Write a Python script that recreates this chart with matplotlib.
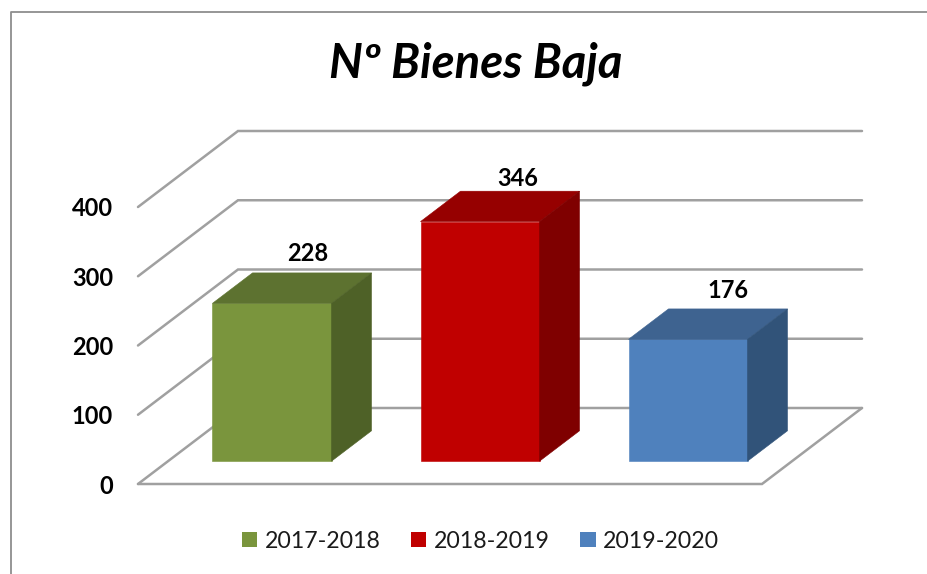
import matplotlib
matplotlib.use("Agg")
import matplotlib.pyplot as plt
from matplotlib.patches import Polygon, Patch

plt.rcParams['font.family'] = ['Lato', 'DejaVu Sans']

# Data
categories = ["2017-2018", "2018-2019", "2019-2020"]
values = [228, 346, 176]
yticks = [0, 100, 200, 300, 400]
title = "Nº Bienes Baja"

# Colours
front_cols = ["#7A953D", "#C00000", "#4F81BD"]
top_cols = ["#5D7230", "#960000", "#3E6390"]
side_cols = ["#4E6127", "#7F0000", "#315379"]
grid_col = "#A0A0A0"
frame_col = "#8E8E8E"

# Geometry: a data-space oblique projection (pixels per unit)
W, H = 927, 574
PX_PER_CAT = 208.0
PX_PER_VAL = 0.6925
X0_PX, Y0_PX = 138.0, 484.0      # front-left corner of the floor
DEPTH_X = 100.0 / PX_PER_CAT     # wall offset in category units
DEPTH_Y = 76.0 / PX_PER_VAL      # wall offset in value units
BAR_W = 119.0 / PX_PER_CAT
D0, D1 = 0.30, 0.70              # bar depth range
LABEL_DX = [-4, -2, 0]           # label nudges, pixels
LABEL_DY = [19, 13, 18]


def P(x, v, d=0.0):
    return (x + d * DEPTH_X, v + d * DEPTH_Y)


fig = plt.figure(figsize=(W / 100, H / 100), dpi=100, facecolor="white")
ax = fig.add_axes([0, 0, 1, 1])
xleft = -0.5 - X0_PX / PX_PER_CAT
ybot = -(H - Y0_PX) / PX_PER_VAL
ax.set_xlim(xleft, xleft + W / PX_PER_CAT)
ax.set_ylim(ybot, ybot + H / PX_PER_VAL)
ax.axis("off")

# Outer chart frame (left and top only; it runs off the image)
fig.add_artist(plt.Line2D([10.5 / W, 10.5 / W, 1], [0, 1 - 12 / H, 1 - 12 / H],
                          color=frame_col, lw=1.3, transform=fig.transFigure))

xl, xr = -0.5, 2.5
line = dict(color=grid_col, lw=1.8, solid_capstyle="round", solid_joinstyle="miter", zorder=1)
for v in yticks:
    a, b, c = P(xl, v), P(xl, v, 1), P(xr, v, 1)
    ax.plot([a[0], b[0], c[0]], [a[1], b[1], c[1]], **line)
    ax.text(xl - 25 / PX_PER_CAT, v - 2 / PX_PER_VAL, str(v), ha="right", va="center",
            fontsize=17, fontweight="bold", color="black")
# Floor front and right edges
a, b, c = P(xl, 0), P(xr, 0), P(xr, 0, 1)
ax.plot([a[0], b[0], c[0]], [a[1], b[1], c[1]], **line)

# Bars
for i, (v, fc, tc, sc) in enumerate(zip(values, front_cols, top_cols, side_cols)):
    l, r = i - BAR_W / 2, i + BAR_W / 2
    ax.add_patch(Polygon([P(l, 0, D0), P(r, 0, D0), P(r, v, D0), P(l, v, D0)],
                         fc=fc, ec=fc, lw=0.4, zorder=3))
    ax.add_patch(Polygon([P(l, v, D0), P(r, v, D0), P(r, v, D1), P(l, v, D1)],
                         fc=tc, ec=tc, lw=0.4, zorder=3))
    ax.add_patch(Polygon([P(r, 0, D0), P(r, 0, D1), P(r, v, D1), P(r, v, D0)],
                         fc=sc, ec=sc, lw=0.4, zorder=3))
    lx, ly = P(i, v, D1)
    ax.text(lx + LABEL_DX[i] / PX_PER_CAT, ly + LABEL_DY[i] / PX_PER_VAL, str(v),
            ha="center", va="center", fontsize=17, fontweight="bold", color="black", zorder=4)

fig.text(476 / W, 1 - 78 / H, title, ha="center", va="baseline",
         fontsize=34, fontweight="bold", fontstyle="italic", color="black")

handles = [Patch(facecolor=c, edgecolor=c, lw=0) for c in front_cols]
fig.legend(handles, categories, loc="center", bbox_to_anchor=(480.5 / W, 1 - 541 / H),
           ncol=3, frameon=False, fontsize=16.7, handlelength=0.65, handleheight=0.65,
           handletextpad=0.3, columnspacing=1.34, labelcolor="#1a1a1a")

fig.savefig("out.png", dpi=100)
